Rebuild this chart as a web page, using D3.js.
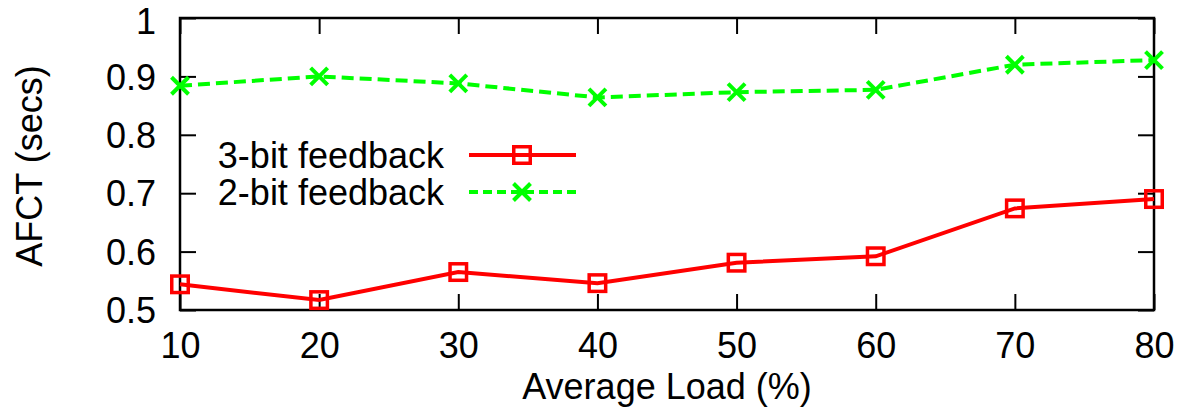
<!DOCTYPE html>
<html>
<head>
<meta charset="utf-8">
<script src="https://cdn.jsdelivr.net/npm/d3@7"></script>
<style>
html,body{margin:0;padding:0;background:#fff;}
svg{display:block;font-family:"Liberation Sans",Arial,sans-serif;}
</style>
</head>
<body>
<svg id="chart" width="1187" height="408"></svg>
<script>
const loads = [10, 20, 30, 40, 50, 60, 70, 80];
const threeBit = [0.544, 0.517, 0.565, 0.546, 0.581, 0.592, 0.674, 0.690];
const twoBit = [0.884, 0.900, 0.888, 0.864, 0.873, 0.877, 0.920, 0.928];
const xTicks = [10, 20, 30, 40, 50, 60, 70, 80];
const yTicks = [0.5, 0.6, 0.7, 0.8, 0.9, 1.0];
const yTickLabels = ["0.5", "0.6", "0.7", "0.8", "0.9", "1"];
const seriesNames = ["3-bit feedback", "2-bit feedback"];

const svg = d3.select("#chart");
const m = {left: 180, right: 1154, top: 18, bottom: 310};
const x = d3.scaleLinear().domain([10, 80]).range([m.left, m.right]);
const y = d3.scaleLinear().domain([0.5, 1.0]).range([m.bottom, m.top]);
const FS = 36;
const tickLen = 16;

// axes (gnuplot-style inward ticks, mirrored)
const gB = svg.append("g").attr("transform", `translate(0,${m.bottom})`)
  .call(d3.axisBottom(x).tickValues(xTicks).tickSize(-tickLen).tickFormat(d3.format("d")));
const gT = svg.append("g").attr("transform", `translate(0,${m.top})`)
  .call(d3.axisTop(x).tickValues(xTicks).tickSize(-tickLen).tickFormat(""));
const gL = svg.append("g").attr("transform", `translate(${m.left},0)`)
  .call(d3.axisLeft(y).tickValues(yTicks).tickSize(-tickLen).tickPadding(tickLen + 8).tickFormat((d, i) => yTickLabels[i]));
const gR = svg.append("g").attr("transform", `translate(${m.right},0)`)
  .call(d3.axisRight(y).tickValues(yTicks).tickSize(-tickLen).tickFormat(""));
[gB, gT, gL, gR].forEach(g => {
  g.select(".domain").remove();
  g.selectAll(".tick line").attr("stroke", "#000").attr("stroke-width", 2);
  g.selectAll("text").attr("font-size", FS).attr("fill", "#000").attr("font-family", "Liberation Sans, Arial, sans-serif");
});
gB.selectAll("text").attr("dy", null).attr("y", 48);
gL.selectAll("text").attr("dy", "0.35em").attr("y", d => d === 1.0 ? 2.5 : 0);

svg.append("rect").attr("x", m.left).attr("y", m.top)
  .attr("width", m.right - m.left).attr("height", m.bottom - m.top)
  .attr("fill", "none").attr("stroke", "#000").attr("stroke-width", 2.5);

// axis titles
svg.append("text").attr("x", (m.left + m.right) / 2).attr("y", 399)
  .attr("text-anchor", "middle").attr("font-size", FS).text("Average Load (%)");
svg.append("text").attr("transform", "translate(42,166) rotate(-90)")
  .attr("text-anchor", "middle").attr("font-size", FS).text("AFCT (secs)");

const RED = "#ff0000", GREEN = "#00ff00";
const line = d3.line().x(d => x(d[0])).y(d => y(d[1]));
const d3bit = loads.map((l, i) => [l, threeBit[i]]);
const d2bit = loads.map((l, i) => [l, twoBit[i]]);

function square(g, cx, cy) {
  const s = 16.5;
  g.append("rect").attr("x", cx - s / 2).attr("y", cy - s / 2).attr("width", s).attr("height", s)
    .attr("fill", "none").attr("stroke", RED).attr("stroke-width", 3.5);
}
function cross(g, cx, cy) {
  const h = 8.5;
  g.append("path").attr("d", `M${cx - h},${cy - h}L${cx + h},${cy + h}M${cx - h},${cy + h}L${cx + h},${cy - h}`)
    .attr("stroke", GREEN).attr("stroke-width", 4).attr("fill", "none");
}

svg.append("path").datum(d2bit).attr("d", line).attr("fill", "none")
  .attr("stroke", GREEN).attr("stroke-width", 4).attr("stroke-dasharray", "12,6");
svg.append("path").datum(d3bit).attr("d", line).attr("fill", "none")
  .attr("stroke", RED).attr("stroke-width", 4);
const mk = svg.append("g");
d2bit.forEach(d => cross(mk, x(d[0]), y(d[1])));
d3bit.forEach(d => square(mk, x(d[0]), y(d[1])));

// legend
const leg = svg.append("g");
const rows = [155, 192];
leg.append("text").attr("x", 444).attr("y", rows[0]).attr("dy", "0.35em").attr("text-anchor", "end")
  .attr("font-size", FS).text(seriesNames[0]);
leg.append("text").attr("x", 444).attr("y", rows[1]).attr("dy", "0.35em").attr("text-anchor", "end")
  .attr("font-size", FS).text(seriesNames[1]);
leg.append("line").attr("x1", 469).attr("x2", 576).attr("y1", rows[0]).attr("y2", rows[0])
  .attr("stroke", RED).attr("stroke-width", 4);
square(leg, 522, rows[0]);
leg.append("line").attr("x1", 469).attr("x2", 576).attr("y1", rows[1]).attr("y2", rows[1])
  .attr("stroke", GREEN).attr("stroke-width", 4).attr("stroke-dasharray", "9,5");
cross(leg, 522, rows[1]);
</script>
</body>
</html>
